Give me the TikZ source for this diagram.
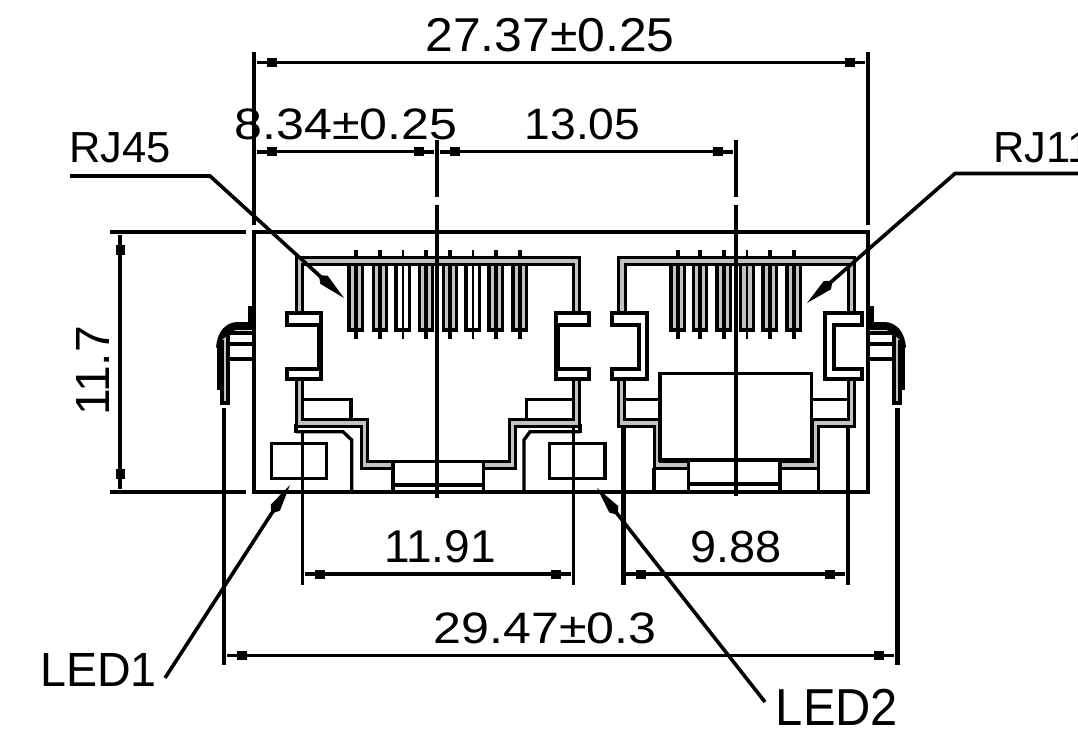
\documentclass[tikz,border=0pt]{standalone}
\usepackage{fontspec}
\setmainfont{Liberation Sans}
\usetikzlibrary{arrows.meta}
\definecolor{band}{HTML}{C2C2C2}
\newcommand\fsz[1]{\fontsize{#1}{#1}\selectfont}
\tikzset{
  ln/.style={line width=3.3pt,line cap=butt,line join=miter},
  thick5/.style={line width=5pt},
  dbl/.style={line width=3.3pt,double=band,double distance=3.3pt,line join=miter},
  dim/.style={ln,{Rectangle[length=10pt,width=3.6pt,sep=0pt]Rectangle[length=10pt,width=9pt,sep=0pt]}-{Rectangle[length=10pt,width=9pt,sep=0pt]Rectangle[length=10pt,width=3.6pt,sep=0pt]}},
  leader/.style={line width=3.6pt,line join=miter,-{Kite[length=34pt,width=11pt,inset=7pt]}},
  lbl/.style={inner sep=0pt,transform shape},
  pinrect/.style={ln}
}
\newcommand\pin[3]{% centre, fill, centre width
  \draw[pinrect,fill=#2] (#1-6.7,264) rectangle (#1+6.7,330);
  \draw[line width=#3] (#1,250) -- (#1,339);
}
\begin{document}
\begin{tikzpicture}[x=1pt,y=-1pt]
\useasboundingbox[fill=white] (0,0) rectangle (1078,729);

% body
\draw[ln] (254,232) rectangle (868,492);

% pins RJ45
\foreach \c/\f/\w in {355.7/band/3.6pt,380/band/3.6pt,402.7/white/2pt,426/band/3.6pt,450/band/3.6pt,472.7/white/2pt,495.7/band/3.6pt,519.7/band/3.6pt}{\pin{\c}{\f}{\w}}
% pins RJ11
\foreach \c/\f/\w in {677.7/band/3.6pt,700/band/3.6pt,723.7/band/3.6pt,747/band/2pt,769.7/band/3.6pt,793.7/band/3.6pt}{\pin{\c}{\f}{\w}}

% housings (double walls)
\draw[dbl] (299.5,313) -- (299.5,261) -- (576.5,261) -- (576.5,313);
\draw[dbl] (622,313) -- (622,261) -- (851.5,261) -- (851.5,313);
\draw[dbl] (299.5,379) -- (299.5,423) -- (364.5,423) -- (364.5,465) -- (393,465);
\draw[dbl] (576.5,379) -- (576.5,423) -- (512.5,423) -- (512.5,465) -- (483,465);
\draw[dbl] (621.5,379) -- (621.5,423) -- (657.5,423) -- (657.5,465) -- (688,465);
\draw[dbl] (851.5,379) -- (851.5,423) -- (815.5,423) -- (815.5,465) -- (780,465);

% latches
\draw[ln,fill=white] (287,313) -- (321,313) -- (321,379) -- (287,379) -- (287,369) -- (319,369) -- (319,325) -- (287,325) -- cycle;
\draw[ln,fill=white] (589,313) -- (556,313) -- (556,379) -- (589,379) -- (589,369) -- (558,369) -- (558,325) -- (589,325) -- cycle;
\draw[ln,fill=white] (612,313) -- (647,313) -- (647,379) -- (612,379) -- (612,369) -- (639,369) -- (639,325) -- (612,325) -- cycle;
\draw[ln,fill=white] (862,313) -- (825,313) -- (825,379) -- (862,379) -- (862,369) -- (834,369) -- (834,325) -- (862,325) -- cycle;

% small boxes above bands
\draw[ln] (303,399.3) -- (351,399.3) -- (351,419);
\draw[ln] (573,399.3) -- (526.7,399.3) -- (526.7,419);
\draw[ln] (625,399.3) -- (660,399.3);
\draw[ln] (812,399.3) -- (847,399.3);

% LED recess lines
\draw[ln] (296,424) -- (296,433);
\draw[ln] (580,424) -- (580,433);
\draw[ln] (296,431.7) -- (343,431.7) -- (351.7,440) -- (351.7,492);
\draw[ln] (580,431.7) -- (530,431.7) -- (524,440) -- (524,492);

% bottom latch windows
\draw[ln] (393,492) -- (393,461.7) -- (483.3,461.7) -- (483.3,492);
\draw[ln] (393,485) -- (483.3,485);
\draw[ln] (688.3,492) -- (688.3,460) (780,460) -- (780,492);
\draw[ln] (688.3,484) -- (780,484);
\draw[ln] (654,468) -- (654,492);
\draw[ln] (818.5,468) -- (818.5,492);
\draw[ln] (660,460) -- (660,373.7) -- (811.7,373.7) -- (811.7,460) -- cycle;

% LED boxes
\draw[ln] (271.7,443.3) rectangle (326.7,478.3);
\draw[ln] (549.3,443.3) rectangle (605,478.3);

% clips
\foreach \s/\o in {1/0,-1/1122}{
\begin{scope}[xshift=\o pt,xscale=\s]
  \draw[thick5] (250.5,306) -- (250.5,327);
  \draw[line width=8pt] (253,326) -- (238,326) .. controls (228,326) and (221,334) .. (220,348);
  \draw[line width=5pt] (219.5,342) -- (219.5,390);
  \draw[ln,fill=band] (222,340) -- (222,403) -- (228,403) -- (228,335);
  \draw[ln] (228,333) -- (254,333) (228,344) -- (254,344) (228,359) -- (254,359);
\end{scope}}

% centre lines and extension lines
\draw[ln] (437,140) -- (437,197) (437,205) -- (437,498);
\draw[ln] (736,140) -- (736,197) (736,205) -- (736,496);
\draw[ln] (254,52) -- (254,225);
\draw[ln] (868,52) -- (868,225);
\draw[ln] (110,232) -- (246,232);
\draw[ln] (110,492) -- (246,492);
\draw[ln] (302.7,432) -- (302.7,585);
\draw[ln] (573.5,426) -- (573.5,585);
\draw[thick5] (623,426) -- (623,585);
\draw[ln] (848,426) -- (848,585);
\draw[ln] (224,408) -- (224,665);
\draw[thick5] (897,408) -- (897,665);

% named dimension ends
\coordinate (d1a) at (257,62.5);  \coordinate (d1b) at (865,62.5);
\coordinate (d2a) at (257,151.7); \coordinate (d2b) at (434,151.7);
\coordinate (d3a) at (440,151.7); \coordinate (d3b) at (733,151.7);
\coordinate (d4a) at (120,235);   \coordinate (d4b) at (120,489);
\coordinate (d5a) at (305,574);   \coordinate (d5b) at (571,574);
\coordinate (d6a) at (626,574);   \coordinate (d6b) at (845,574);
\coordinate (d7a) at (227,655.5); \coordinate (d7b) at (894,655.5);
\draw[dim] (d1a) -- (d1b);
\draw[dim] (d2a) -- (d2b);
\draw[dim] (d3a) -- (d3b);
\draw[dim] (d4a) -- (d4b);
\draw[dim] (d5a) -- (d5b);
\draw[dim] (d6a) -- (d6b);
\draw[dim] (d7a) -- (d7b);

% dimension texts
\node[lbl,font=\fsz{47.5},xscale=1.05] (t1) at (550,35) {27.37±0.25};
\node[lbl,font=\fsz{44},xscale=1.14] (t2) at (346,124) {8.34±0.25};
\node[lbl,font=\fsz{44},xscale=1.05] (t3) at (582.5,124) {13.05};
\node[lbl,font=\fsz{48},anchor=center,rotate=90] (t4) at (93,371) {11.7};
\node[lbl,font=\fsz{46}] (t5) at (440,547) {11.91};
\node[lbl,font=\fsz{45},xscale=1.04] (t6) at (736,547) {9.88};
\node[lbl,font=\fsz{44},xscale=1.14] (t7) at (545,628) {29.47±0.3};

% callouts
\node[lbl,font=\fsz{43.5},anchor=center] (rja) at (120,148) {RJ45};
\node[lbl,font=\fsz{43.5},anchor=west] (rjb) at (993,148) {RJ11};
\node[lbl,font=\fsz{48},xscale=.97] (ledA) at (98.5,669.5) {LED1};
\node[lbl,font=\fsz{52},xscale=.94] (ledB) at (837,707) {LED2};

\coordinate (la0) at (70,176);   \coordinate (la1) at (210,176);  \coordinate (la2) at (344,298);
\coordinate (lb0) at (1078,173.5); \coordinate (lb1) at (955,173.5); \coordinate (lb2) at (807,303);
\coordinate (lc0) at (165,678);  \coordinate (lc2) at (290,485);
\coordinate (ld0) at (765,702);  \coordinate (ld2) at (597,488);
\draw[leader] (la0) -- (la1) -- (la2);
\draw[leader] (lb0) -- (lb1) -- (lb2);
\draw[leader] (lc0) -- (lc2);
\draw[leader] (ld0) -- (ld2);
\end{tikzpicture}
\end{document}
